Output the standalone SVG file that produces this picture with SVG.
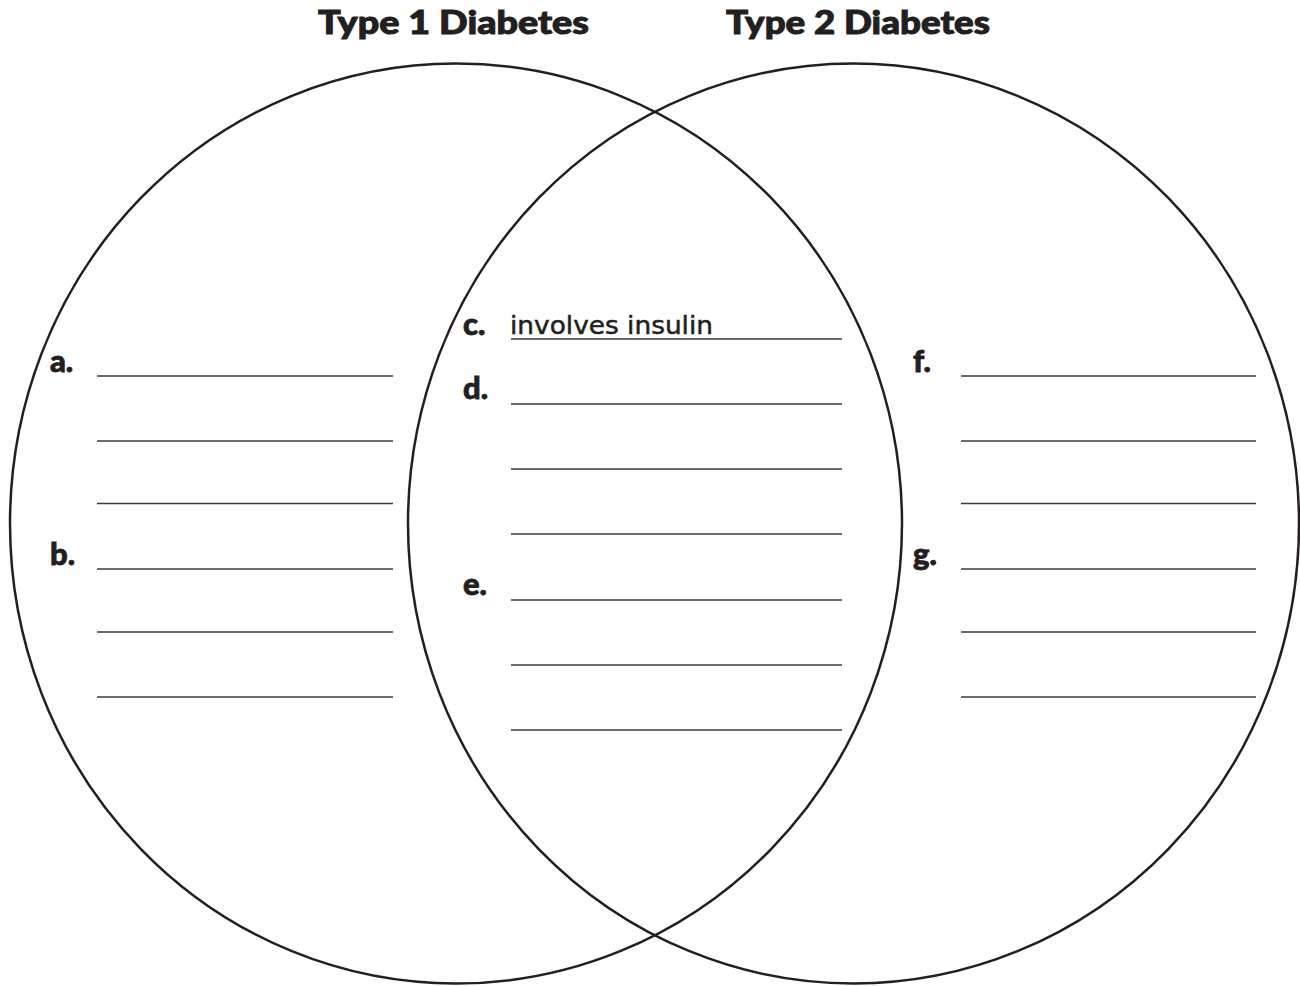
<svg xmlns="http://www.w3.org/2000/svg" width="1300" height="986" viewBox="0 0 1300 986">
<style>
.circ{fill:none;stroke:#231f20;stroke-width:2.5}
.ln{stroke:#3a3a3a;stroke-width:1.6}
.ttl{font-family:"Lato","Liberation Sans",sans-serif;font-weight:900;font-size:32px;fill:#231f20;stroke:#231f20;stroke-width:1}
.lbl{font-family:"Lato","Liberation Sans",sans-serif;font-weight:900;font-size:31px;fill:#231f20;stroke:#231f20;stroke-width:0.8}
.hw{font-family:"DejaVu Sans","Liberation Sans",sans-serif;font-size:25px;fill:#231f20;stroke:#231f20;stroke-width:0.5}
</style>
<rect width="1300" height="986" fill="#fff"/>
<g id="titles">
<text class="ttl" x="318" y="34" textLength="271" lengthAdjust="spacingAndGlyphs">Type 1 Diabetes</text>
<text class="ttl" x="726" y="34" textLength="264" lengthAdjust="spacingAndGlyphs">Type 2 Diabetes</text>
</g>
<g id="circle-type1">
<ellipse class="circ" cx="456" cy="523.5" rx="446" ry="460"/>
</g>
<g id="circle-type2">
<ellipse class="circ" cx="853.5" cy="523.5" rx="445.5" ry="460"/>
</g>
<g id="left-items">
<text class="lbl" x="50" y="372">a.</text>
<text class="lbl" x="50" y="565">b.</text>
<line class="ln" x1="97" y1="376" x2="393" y2="376"/>
<line class="ln" x1="97" y1="441" x2="393" y2="441"/>
<line class="ln" x1="97" y1="503.5" x2="393" y2="503.5"/>
<line class="ln" x1="97" y1="569" x2="393" y2="569"/>
<line class="ln" x1="97" y1="632" x2="393" y2="632"/>
<line class="ln" x1="97" y1="697" x2="393" y2="697"/>
</g>
<g id="middle-items">
<text class="lbl" x="463" y="335">c.</text>
<text class="hw" x="510" y="334" textLength="203" lengthAdjust="spacingAndGlyphs">involves insulin</text>
<text class="lbl" x="463" y="399">d.</text>
<text class="lbl" x="463" y="595">e.</text>
<line class="ln" x1="511" y1="339" x2="842" y2="339"/>
<line class="ln" x1="511" y1="404" x2="842" y2="404"/>
<line class="ln" x1="511" y1="469" x2="842" y2="469"/>
<line class="ln" x1="511" y1="534" x2="842" y2="534"/>
<line class="ln" x1="511" y1="600" x2="842" y2="600"/>
<line class="ln" x1="511" y1="665" x2="842" y2="665"/>
<line class="ln" x1="511" y1="730" x2="842" y2="730"/>
</g>
<g id="right-items">
<text class="lbl" x="913" y="372">f.</text>
<text class="lbl" x="913" y="565">g.</text>
<line class="ln" x1="961" y1="376" x2="1256" y2="376"/>
<line class="ln" x1="961" y1="441" x2="1256" y2="441"/>
<line class="ln" x1="961" y1="503.5" x2="1256" y2="503.5"/>
<line class="ln" x1="961" y1="569" x2="1256" y2="569"/>
<line class="ln" x1="961" y1="632" x2="1256" y2="632"/>
<line class="ln" x1="961" y1="697" x2="1256" y2="697"/>
</g>
</svg>
